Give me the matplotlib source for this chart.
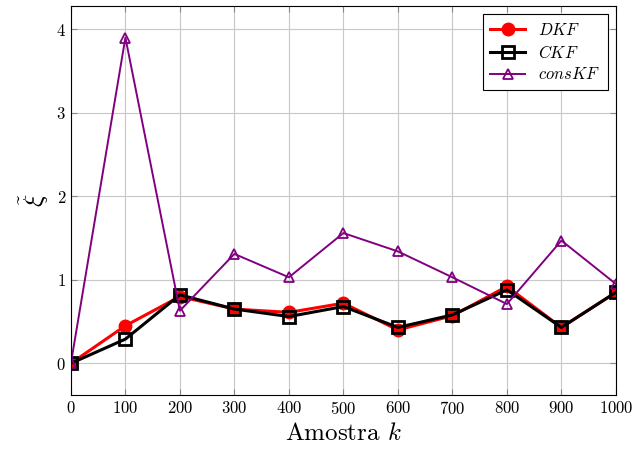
import numpy as np
import matplotlib
matplotlib.use("Agg")
import matplotlib.pyplot as plt

# Computer Modern look
plt.rcParams['font.family'] = 'serif'
plt.rcParams['font.serif'] = ['cmr10']
plt.rcParams['mathtext.fontset'] = 'cm'
plt.rcParams['axes.formatter.use_mathtext'] = True

# samples
k = [0, 100, 200, 300, 400, 500, 600, 700, 800, 900, 1000]

# error per filter
dkf = [0.0, 0.45, 0.80, 0.65, 0.61, 0.72, 0.40, 0.57, 0.92, 0.43, 0.85]
ckf = [0.0, 0.29, 0.82, 0.65, 0.56, 0.68, 0.43, 0.58, 0.88, 0.43, 0.85]
conskf = [0.0, 3.90, 0.63, 1.31, 1.03, 1.56, 1.34, 1.03, 0.71, 1.47, 0.95]

fig = plt.figure(figsize=(6.33, 4.51), dpi=100)
ax = fig.add_axes([0.112, 0.124, 0.861, 0.863])

ax.plot(k, dkf, color='red', lw=2.2, marker='o', markersize=9,
        label=r'$DKF$')
ax.plot(k, ckf, color='black', lw=2.2, marker='s', markersize=9,
        markerfacecolor='none', markeredgewidth=2, label=r'$CKF$')
ax.plot(k, conskf, color='purple', lw=1.4, marker='^', markersize=7,
        markerfacecolor='none', markeredgewidth=1.3, label=r'$consKF$')

ax.set_xlim(0, 1000)
ax.set_ylim(-0.38, 4.28)
ax.set_xticks(np.arange(0, 1001, 100))
ax.set_yticks([0, 1, 2, 3, 4])
ax.grid(True, color='#c8c8c8', lw=0.8)
ax.set_axisbelow(True)
ax.tick_params(direction='in', top=True, right=True, labelsize=12,
               length=4, color='#888888')

ax.set_xlabel(r'Amostra $k$', fontsize=18)
ax.set_ylabel(r'$\tilde{\xi}$', fontsize=19)

leg = ax.legend(loc='upper right', fontsize=12, fancybox=False,
                framealpha=1, edgecolor='black', handlelength=2.1,
                borderpad=0.45, labelspacing=0.35)
leg.get_frame().set_linewidth(0.8)

fig.savefig('out.png', dpi=100)
